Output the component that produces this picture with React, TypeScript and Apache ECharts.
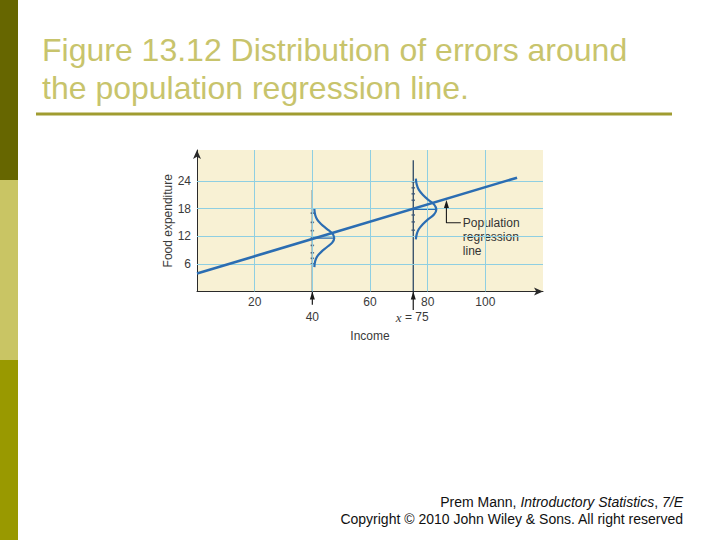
import React, { useEffect, useRef } from "react";
import * as echarts from "echarts";

// ---- data ----
const xGridValues = [20, 40, 60, 80, 100];
const yGridValues = [6, 12, 18, 24];
const xTickLabels = [20, 60, 80, 100];
const yTickLabels = [6, 12, 18, 24];

const regressionX = [0, 111];
const regressionY = [3.9, 24.7];

const markedIncomes = [40, 75];
const verticalTops = [22, 28.5];
const belowAxisStart = [-2.9, -4.0];
const meanLevels = [11.6, 17.8];
const peakIncomes = [47.6, 83.0];

const curve40X = [40.7, 41.0, 41.7, 43.1, 45.0, 46.9, 47.6, 46.9, 45.0, 43.1, 41.7, 41.0, 40.7];
const curve40Y = [17.9, 16.6, 15.6, 14.6, 13.6, 12.6, 11.6, 10.6, 9.6, 8.6, 7.6, 6.6, 5.3];
const curve75X = [75.9, 76.2, 76.9, 78.3, 80.2, 82.2, 83.0, 82.2, 80.2, 78.3, 76.9, 76.2, 75.9];
const curve75Y = [24.5, 23.2, 22.1, 21.0, 19.9, 18.9, 17.8, 16.7, 15.7, 14.6, 13.5, 12.4, 11.3];

const dots40 = [17, 15, 13.2, 11.6, 10, 8.4, 7.2, 6];
const dots75 = [23.8, 22.5, 21.2, 19.8, 16.6, 15.1, 13.3];

const annotationX = [91.5, 86.5, 86.5];
const annotationY = [14.9, 14.9, 19.0];
const annotationLines = ["Population", "regression", "line"];
const annotationTextAt = [92.2, 14.8];

const titleLines = ["Figure 13.12 Distribution of errors around", "the population regression line."];

const BLUE = "#2b6db2";
const NAVY = "#1d3a5c";
const GRIDC = "#8fcfe2";
const FONT = "'Liberation Sans', Arial, Helvetica, sans-serif";

export default function App() {
  const ref = useRef<HTMLDivElement>(null);
  useEffect(() => {
    if (!ref.current) return;
    const chart = echarts.init(ref.current, null, { renderer: "svg" });
    const zip = (xs: number[], ys: number[]) => xs.map((x, i) => [x, ys[i]]);

    const option: any = {
      animation: false,
      backgroundColor: "#ffffff",
      grid: {
        left: 197,
        width: 346,
        top: 150,
        height: 141.5,
        show: true,
        backgroundColor: "#f8f1d4",
        borderWidth: 0,
      },
      xAxis: {
        type: "value",
        min: 0,
        max: 120,
        interval: 20,
        name: "Income",
        nameLocation: "middle",
        nameGap: 38,
        nameTextStyle: { fontFamily: FONT, fontSize: 12, color: "#3a3a3a" },
        axisLine: { show: true, symbol: ["none", "arrow"], symbolSize: [6, 9], lineStyle: { color: "#2a2a2a", width: 1 } },
        axisTick: { show: false },
        splitLine: { show: false },
        axisLabel: {
          margin: 4,
          fontFamily: FONT,
          fontSize: 12,
          color: "#3a3a3a",
          formatter: (v: number) => (xTickLabels.includes(v) ? String(v) : ""),
        },
      },
      yAxis: {
        type: "value",
        min: 0,
        max: 30.7,
        interval: 6,
        name: "Food expenditure",
        nameLocation: "middle",
        nameRotate: 90,
        nameGap: 21,
        nameTextStyle: { fontFamily: FONT, fontSize: 12, color: "#3a3a3a" },
        axisLine: { show: true, symbol: ["none", "arrow"], symbolSize: [6, 9], lineStyle: { color: "#2a2a2a", width: 1 } },
        axisTick: { show: false },
        splitLine: { show: false },
        axisLabel: {
          margin: 6,
          fontFamily: FONT,
          fontSize: 12,
          color: "#3a3a3a",
          formatter: (v: number) => (yTickLabels.includes(v) ? String(v) : ""),
        },
      },
      series: [
        {
          type: "line",
          z: 1,
          data: [],
          markLine: {
            silent: true,
            symbol: "none",
            label: { show: false },
            lineStyle: { color: GRIDC, width: 1, type: "solid" },
            data: [
              ...xGridValues.map((v) => ({ xAxis: v })),
              ...yGridValues.map((v) => ({ yAxis: v })),
            ],
          },
        },
        ...markedIncomes.map((x, i) => ({
          type: "line",
          z: 3,
          symbol: "none",
          data: [[x, 0], [x, verticalTops[i]]],
          lineStyle: { color: NAVY, width: 1.2 },
        })),
        ...markedIncomes.map((x, i) => ({
          type: "line",
          z: 3,
          clip: false,
          showSymbol: true,
          symbol: "none",
          data: [
            { value: [x, belowAxisStart[i]] },
            { value: [x, 0], symbol: "triangle", symbolSize: [5, 8], symbolOffset: [0, 4] },
          ],
          itemStyle: { color: "#1a1a1a" },
          lineStyle: { color: "#1a1a1a", width: 1.2 },
        })),
        ...markedIncomes.map((x, i) => ({
          type: "line",
          z: 3,
          symbol: "none",
          data: [[x, meanLevels[i]], [peakIncomes[i], meanLevels[i]]],
          lineStyle: { color: BLUE, width: 1.2 },
        })),
        {
          type: "scatter",
          z: 4,
          symbol: "rect",
          symbolSize: [3.5, 1.6],
          itemStyle: { color: "#3b5878" },
          data: [...dots40.map((v) => [40, v]), ...dots75.map((v) => [75, v])],
        },
        {
          type: "line",
          z: 5,
          symbol: "none",
          smooth: 0.4,
          data: zip(curve40X, curve40Y),
          lineStyle: { color: BLUE, width: 2.2 },
        },
        {
          type: "line",
          z: 5,
          symbol: "none",
          smooth: 0.4,
          data: zip(curve75X, curve75Y),
          lineStyle: { color: BLUE, width: 2.2 },
        },
        {
          type: "line",
          z: 6,
          symbol: "none",
          data: zip(regressionX, regressionY),
          lineStyle: { color: BLUE, width: 2.6 },
        },
        {
          type: "line",
          z: 6,
          showSymbol: true,
          symbol: "none",
          data: [
            { value: [annotationX[0], annotationY[0]] },
            { value: [annotationX[1], annotationY[1]] },
            { value: [annotationX[2], annotationY[2]], symbol: "triangle", symbolSize: [5, 8] },
          ],
          itemStyle: { color: "#1a1a1a" },
          lineStyle: { color: "#1a1a1a", width: 1.1 },
        },
      ],
    };
    chart.setOption(option);

    const p40 = chart.convertToPixel({ gridIndex: 0 }, [markedIncomes[0], 0]) as number[];
    const p75 = chart.convertToPixel({ gridIndex: 0 }, [markedIncomes[1], 0]) as number[];
    const pa = chart.convertToPixel({ gridIndex: 0 }, annotationTextAt) as number[];

    const graphic: any[] = [
      { type: "rect", shape: { x: 0, y: 0, width: 18, height: 180 }, style: { fill: "#666600" } },
      { type: "rect", shape: { x: 0, y: 180, width: 18, height: 180 }, style: { fill: "#c9c564" } },
      { type: "rect", shape: { x: 0, y: 360, width: 18, height: 180 }, style: { fill: "#999900" } },
      {
        type: "text",
        x: 42,
        y: 50,
        style: { text: titleLines[0], fontFamily: FONT, fontSize: 32, fill: "#c8c46c", verticalAlign: "middle", align: "left" },
      },
      {
        type: "text",
        x: 42,
        y: 88,
        style: { text: titleLines[1], fontFamily: FONT, fontSize: 32, fill: "#c8c46c", verticalAlign: "middle", align: "left" },
      },
      { type: "rect", shape: { x: 36, y: 112.5, width: 636, height: 3 }, style: { fill: "#a09c30" } },
      {
        type: "text",
        x: p40[0],
        y: 317,
        style: { text: "40", fontFamily: FONT, fontSize: 12, fill: "#3a3a3a", align: "center", verticalAlign: "middle" },
      },
      {
        type: "text",
        x: p75[0] - 1,
        y: 317,
        style: {
          text: "{i|x} = 75",
          fontFamily: FONT,
          fontSize: 12,
          fill: "#3a3a3a",
          align: "center",
          verticalAlign: "middle",
          rich: { i: { fontFamily: "'Liberation Serif', 'Times New Roman', serif", fontStyle: "italic", fontSize: 13, fill: "#3a3a3a" } },
        },
      },
      ...annotationLines.map((t, i) => ({
        type: "text",
        x: pa[0],
        y: pa[1] + i * 14,
        style: { text: t, fontFamily: FONT, fontSize: 12, fill: "#333333", align: "left", verticalAlign: "middle" },
      })),
      {
        type: "text",
        x: 683,
        y: 502,
        style: {
          text: "Prem Mann, {i|Introductory Statistics}, {i|7/E}",
          fontFamily: FONT,
          fontSize: 14,
          fill: "#111111",
          align: "right",
          verticalAlign: "middle",
          rich: { i: { fontFamily: FONT, fontSize: 14, fontStyle: "italic", fill: "#111111" } },
        },
      },
      {
        type: "text",
        x: 683,
        y: 519,
        style: {
          text: "Copyright \u00a9 2010 John Wiley & Sons. All right reserved",
          fontFamily: FONT,
          fontSize: 14,
          fill: "#111111",
          align: "right",
          verticalAlign: "middle",
        },
      },
    ];
    chart.setOption({ graphic });

    return () => chart.dispose();
  }, []);

  return (
    <div
      ref={ref}
      style={{ position: "fixed", left: 0, top: 0, width: 720, height: 540, background: "#ffffff" }}
    />
  );
}
